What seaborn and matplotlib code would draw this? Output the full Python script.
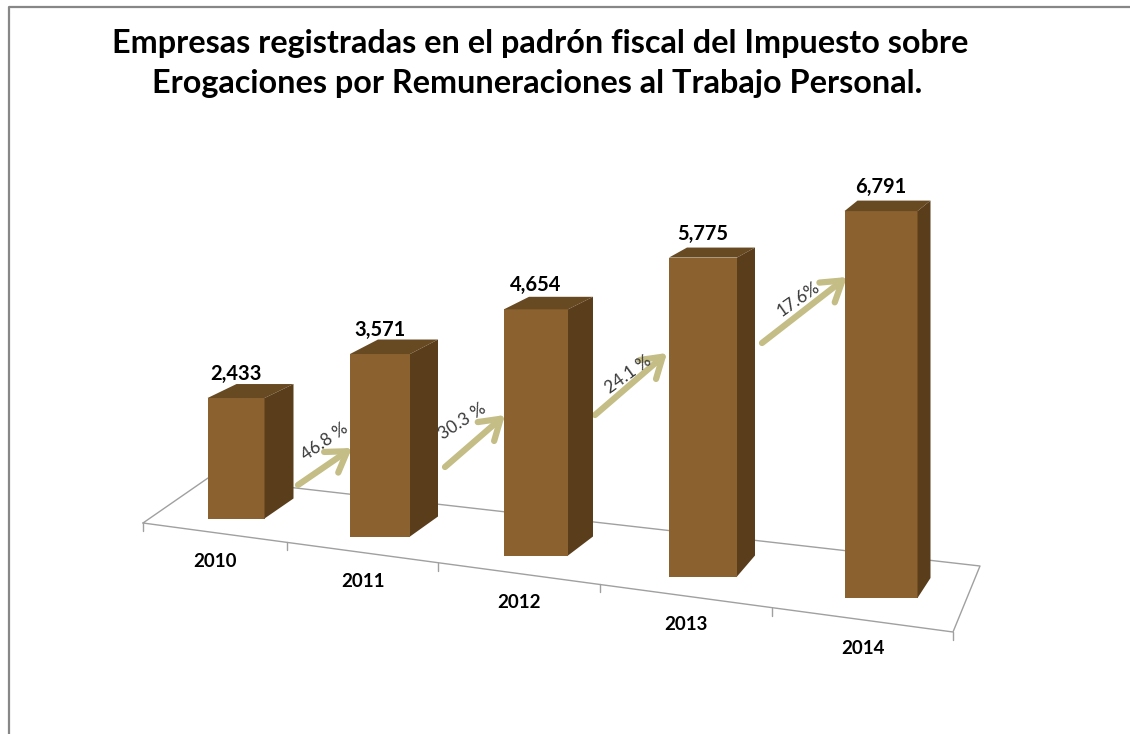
import numpy as np
import pandas as pd
import seaborn as sns
from matplotlib import pyplot as plt
from matplotlib.patches import Polygon
from matplotlib.lines import Line2D

sns.set_style('white')
plt.rcParams['font.family'] = ['Lato', 'DejaVu Sans']
plt.rcParams['text.color'] = 'k'

#%% data
years = ['2010', '2011', '2012', '2013', '2014']
empresas = [2433, 3571, 4654, 5775, 6791]
crecimiento = ['46.8 %', '30.3 %', '24.1 %', '17.6%']
titulo = ['Empresas registradas en el padrón fiscal del Impuesto sobre',
          'Erogaciones por Remuneraciones al Trabajo Personal.']

#%% layout of the fake 3D view (pixels on a 1130x734 canvas)
W, H = 1130, 734
PX = 0.0529                       # pixels per empresa on the middle bar
bar_cx = [236, 380, 536, 703, 881]
bar_w = [57, 60, 64, 68, 73]
floor_row = [518.5, 536.5, 555.5, 576.5, 598]
persp = [0.936, 0.966, 1.0, 1.044, 1.077]
depth_dx = [29, 28, 25, 18, 13]
depth_top = [14, 14.5, 12.5, 10, 10.5]
depth_bot = [20, 20, 19, 21, 20]

floor_front = [(143, 523), (953, 632)]
floor_back = [(208, 478), (980, 566)]
tick_x = [143, 287, 438, 600, 772, 953]

arrow_tail = [(298, 485), (445, 467), (595, 415), (762, 343)]
arrow_tip = [(352, 448), (505, 415), (667, 353), (847, 277)]
pct_pos = [(325, 442), (462, 421), (628, 374), (798, 299)]
pct_rot = [35, 33, 36, 35]

c_front = '#8B6130'
c_side = '#5A3E1C'
c_top = '#684A22'
c_arrow = '#C4BD85'
c_floor = '#A0A0A0'


def yv(row):
    # pixel row -> y data value
    return (H - row) / PX


def front_y(x):
    (x0, y0), (x1, y1) = floor_front
    return y0 + (x - x0) * (y1 - y0) / (x1 - x0)


#%%
fig = plt.figure(figsize=(W / 100, H / 100), dpi=100)
ax = fig.add_axes([0, 0, 1, 1])

# floor
(fx0, fy0), (fx1, fy1) = floor_front
(bx0, by0), (bx1, by1) = floor_back
ax.plot([fx0, fx1, bx1, bx0, fx0], [yv(fy0), yv(fy1), yv(by1), yv(by0), yv(fy0)],
        color=c_floor, lw=1.0, zorder=1)
for tx in tick_x:
    ty = front_y(tx)
    ax.plot([tx, tx], [yv(ty), yv(ty + 8)], color=c_floor, lw=1.0, zorder=1)

# front faces
df = pd.DataFrame({'cx': bar_cx,
                   'alto': np.array(empresas) * np.array(persp),
                   'base': [yv(r) for r in floor_row]})
sns.barplot(data=df, x='cx', y='alto', native_scale=True, errorbar=None,
            color=c_front, saturation=1, linewidth=0, width=0.45,
            bottom=df['base'].values, ax=ax, zorder=3)

bars = [p for p in ax.patches]
for p, cx, w, dx, dt, db in zip(bars, bar_cx, bar_w, depth_dx, depth_top, depth_bot):
    p.set_x(cx - w / 2)
    p.set_width(w)
    x0, x1 = cx - w / 2, cx + w / 2
    b = p.get_y()
    t = b + p.get_height()
    top = Polygon([(x0, t), (x1, t), (x1 + dx, t + dt / PX), (x0 + dx, t + dt / PX)],
                  closed=True, facecolor=c_top, edgecolor='none', zorder=3)
    side = Polygon([(x1, t), (x1 + dx, t + dt / PX), (x1 + dx, b + db / PX), (x1, b)],
                   closed=True, facecolor=c_side, edgecolor='none', zorder=3)
    ax.add_patch(top)
    ax.add_patch(side)

# value labels
for p, cx, v in zip(bars, bar_cx, empresas):
    t = p.get_y() + p.get_height()
    ax.text(cx, t + 24 / PX, f'{v:,}', ha='center', va='center',
            fontsize=14.5, fontweight='bold', color='k', zorder=5)

# year labels
for i, yr in enumerate(years):
    lx = (tick_x[i] + tick_x[i + 1]) / 2
    ax.text(lx, yv(front_y(lx) + 28.5), yr, ha='center', va='center',
            fontsize=13.5, fontweight='bold', color='k')

# growth arrows
for (tx, ty), (hx, hy), (px, py), rot, lab in zip(arrow_tail, arrow_tip, pct_pos, pct_rot, crecimiento):
    ax.annotate('', xy=(hx, yv(hy)), xytext=(tx, yv(ty)),
                arrowprops=dict(arrowstyle='->,head_length=0.7,head_width=0.45',
                                color=c_arrow, lw=4.5, mutation_scale=20,
                                shrinkA=0, shrinkB=0),
                zorder=2)
    ax.text(px, yv(py), lab, rotation=rot, rotation_mode='anchor',
            ha='center', va='center', fontsize=12.5, color='#383838', zorder=4)

# title
fig.text(540 / W, 1 - 43 / H, titulo[0], ha='center', va='center',
         fontsize=23.3, fontweight='bold', color='k')
fig.text(537 / W, 1 - 83 / H, titulo[1], ha='center', va='center',
         fontsize=23.3, fontweight='bold', color='k')

# chart border (left and top only are visible)
fig.add_artist(Line2D([8.5 / W, 8.5 / W, 1], [0, 1 - 6.5 / H, 1 - 6.5 / H],
                      transform=fig.transFigure, color='#878787', lw=1.6))

ax.set_xlim(0, W)
ax.set_ylim(0, H / PX)
ax.axis('off')

fig.savefig('out.png', dpi=100)
